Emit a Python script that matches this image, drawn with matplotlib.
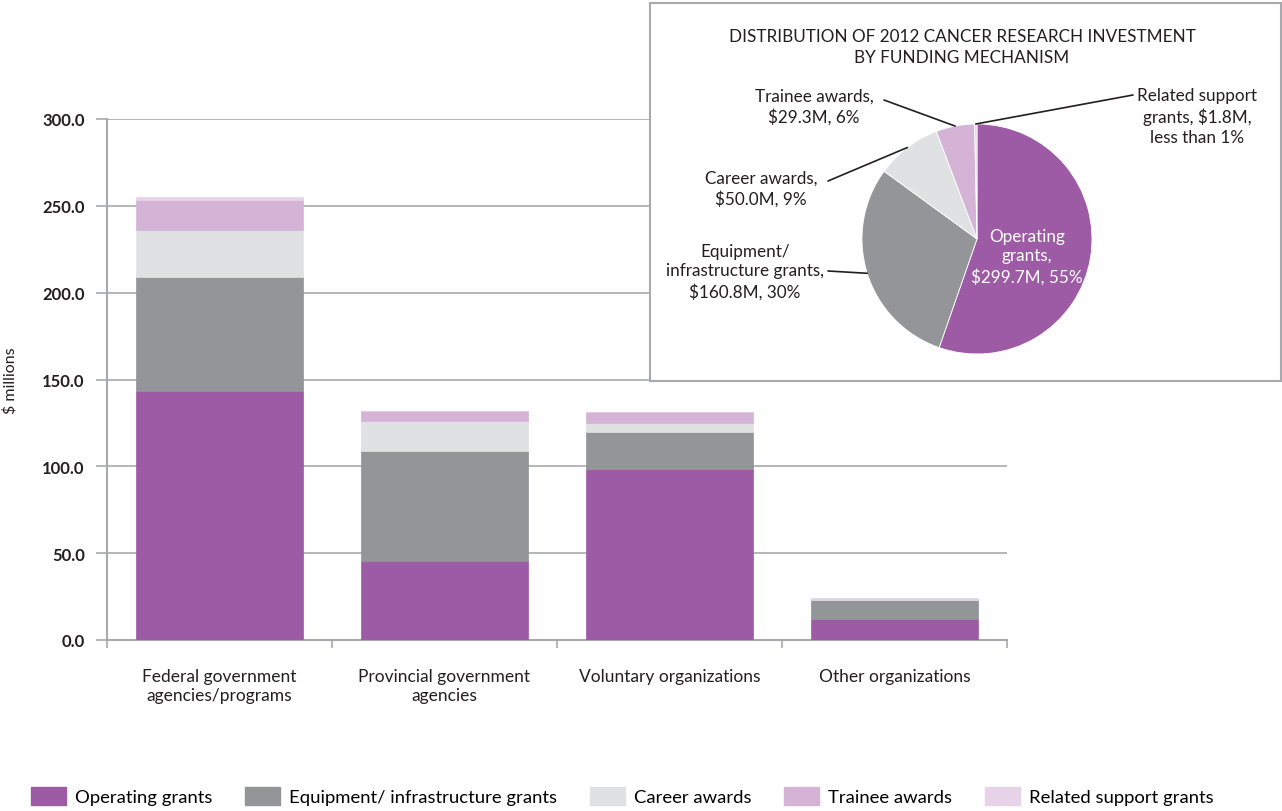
import numpy as np
import matplotlib
matplotlib.use("Agg")
import matplotlib.pyplot as plt
from matplotlib.patches import Patch, Rectangle

plt.rcParams['font.family'] = ['Lato', 'DejaVu Sans']

# ---- data -------------------------------------------------------------
categories = ["Federal government\nagencies/programs",
              "Provincial government\nagencies",
              "Voluntary organizations",
              "Other organizations"]
series_names = ["Operating grants", "Equipment/ infrastructure grants",
                "Career awards", "Trainee awards", "Related support grants"]
operating = [143.6, 45.7, 98.2, 12.2]
equipment = [65.5, 63.2, 21.7, 10.9]
career = [27.1, 17.4, 5.2, 0.4]
trainee = [17.3, 5.4, 6.3, 0.3]
related = [1.6, 0.2, 0.1, 0.3]

pie_names = ["Operating grants", "Equipment/ infrastructure grants",
             "Career awards", "Trainee awards", "Related support grants"]
pie_values = [299.7, 160.8, 50.0, 29.3, 1.8]
pie_labels = ["Operating\ngrants,\n$299.7M, 55%",
              "Equipment/\ninfrastructure grants,\n$160.8M, 30%",
              "Career awards,\n$50.0M, 9%",
              "Trainee awards,\n$29.3M, 6%",
              "Related support\ngrants, $1.8M,\nless than 1%"]
yticks = [0, 50, 100, 150, 200, 250, 300]

colors = ["#9E5BA5", "#939598", "#E0E1E3", "#D4B3D7", "#E6D3E8"]
grid_c = "#A7A9AC"
text_c = "#231F20"

W, H = 1282, 812
fig = plt.figure(figsize=(W / 100, H / 100), dpi=100)


def fx(x):
    return x / W


def fy(y):
    return 1 - y / H


# ---- stacked bar chart -----------------------------------------------
ax = fig.add_axes([fx(107), fy(641), fx(1007) - fx(107), fy(120) - fy(641)])
x = np.arange(len(categories))
bottom = np.zeros(len(categories))
for vals, col, name in zip([operating, equipment, career, trainee, related],
                           colors, series_names):
    ax.bar(x, vals, width=0.74, bottom=bottom, color=col, edgecolor=col,
           linewidth=0.5, label=name, zorder=3)
    bottom += np.array(vals)

ax.set_xlim(-0.5, len(categories) - 0.5)
ax.set_ylim(0, 300)
ax.set_yticks(yticks)
ax.set_yticklabels([f"{v:.1f}" for v in yticks], fontsize=12, fontweight='bold',
                   color=text_c)
ax.yaxis.grid(True, color=grid_c, linewidth=1.2, zorder=0)
ax.tick_params(axis='y', length=8, color=grid_c, width=1.2, pad=8)
ax.set_xticks(x)
ax.set_xticklabels(categories, fontsize=12.5, color=text_c, linespacing=1.25)
ax.tick_params(axis='x', length=0, pad=20)
ax.set_xticks(np.arange(len(categories) + 1) - 0.5, minor=True)
ax.tick_params(axis='x', which='minor', length=6, color=grid_c, width=1.2)
for s in ['top', 'right']:
    ax.spines[s].set_visible(False)
for s in ['left', 'bottom']:
    ax.spines[s].set_color(grid_c)
    ax.spines[s].set_linewidth(1.5)
ax.set_ylabel("$ millions", fontsize=11.5, color=text_c)
ax.yaxis.set_label_coords((fx(18) - fx(107)) / (fx(1007) - fx(107)), 0.5)

# ---- legend -------------------------------------------------------------
handles = [Patch(facecolor=c, edgecolor=c) for c in colors]
fig.legend(handles, series_names, loc='center left',
           bbox_to_anchor=(fx(31), fy(797)), ncol=5, frameon=False,
           fontsize=13.3, handlelength=1.9, handleheight=1.2,
           handletextpad=0.5, columnspacing=1.75, borderaxespad=0,
           borderpad=0)

# ---- inset pie panel ---------------------------------------------------
box = Rectangle((fx(650), fy(382)), fx(1281) - fx(650), fy(4) - fy(382),
                transform=fig.transFigure, facecolor='white',
                edgecolor=grid_c, linewidth=1.5, zorder=5)
fig.patches.append(box)

fig.text(fx(962), fy(37), "DISTRIBUTION OF 2012 CANCER RESEARCH INVESTMENT",
         ha='center', va='center', fontsize=12.3, color=text_c, zorder=6)
fig.text(fx(962), fy(58), "BY FUNDING MECHANISM",
         ha='center', va='center', fontsize=12.3, color=text_c, zorder=6)

cx, cy, r = 977, 240, 115
half = 130
pax = fig.add_axes([fx(cx - half), fy(cy + half), fx(2 * half), fy(cy - half) - fy(cy + half)],
                   zorder=6)
wedges, _ = pax.pie(pie_values, colors=colors, startangle=90, counterclock=False,
                    wedgeprops=dict(linewidth=0.6, edgecolor='white'))
lim = half / r
pax.set_xlim(-lim, lim)
pax.set_ylim(-lim, lim)
pax.set_aspect('equal')
pax.axis('off')

# label text positions (figure pixels) and leader-line starts
text_pos = [(1027, 257), (745, 272), (761, 189), (814, 107), (1197, 117)]
text_color = ['white', text_c, text_c, text_c, text_c]
line_start = [None, (828, 272), (828, 182), (884, 101), (1133, 96)]
for i, (w, lab) in enumerate(zip(wedges, pie_labels)):
    tx, ty = text_pos[i]
    fig.text(fx(tx), fy(ty), lab, ha='center', va='center', fontsize=12.3,
             color=text_color[i], linespacing=1.28, zorder=7)
    if line_start[i] is not None:
        ang = np.deg2rad((w.theta1 + w.theta2) / 2)
        sx, sy = line_start[i]
        pax.annotate('', xy=(np.cos(ang), np.sin(ang)), xycoords='data',
                     xytext=(sx, H - sy), textcoords='figure pixels',
                     arrowprops=dict(arrowstyle='-', color=text_c, lw=1.2,
                                     shrinkA=0, shrinkB=0),
                     annotation_clip=False, zorder=7)

fig.savefig("out.png", dpi=100, facecolor='white')
